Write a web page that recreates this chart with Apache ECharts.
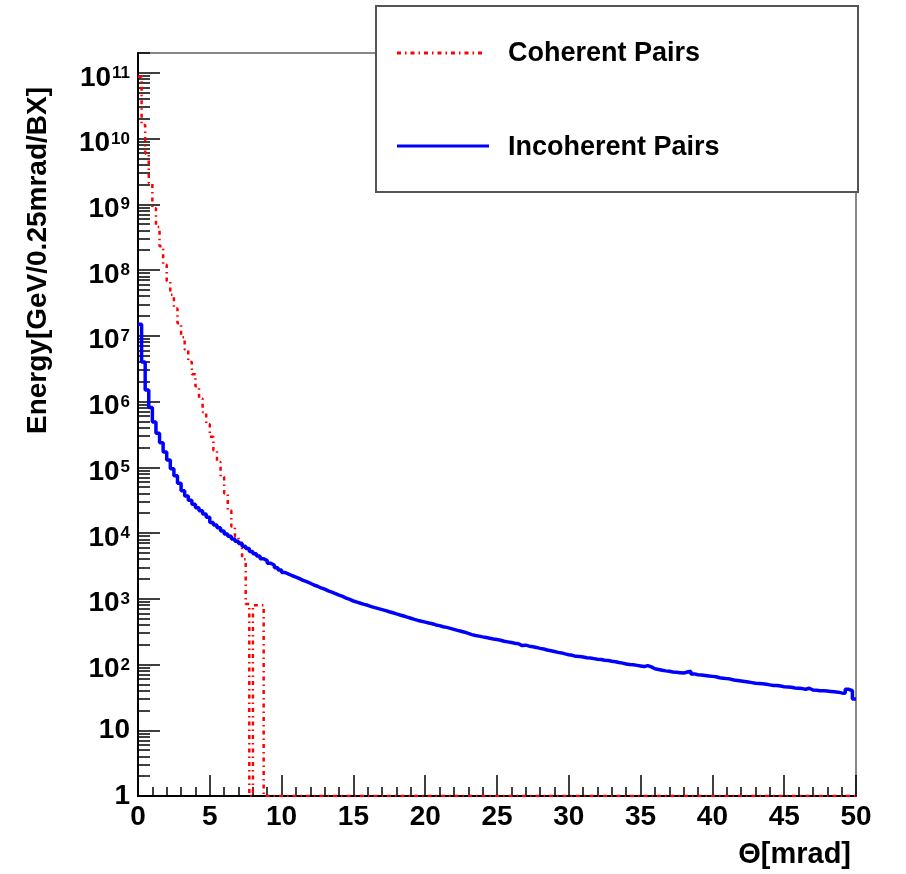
<!DOCTYPE html>
<html>
<head>
<meta charset="utf-8">
<script src="https://cdn.jsdelivr.net/npm/echarts@6/dist/echarts.min.js"></script>
<style>
html, body { margin: 0; padding: 0; background: #fff; }
#chart { width: 906px; height: 874px; }
</style>
</head>
<body>
<div id="chart"></div>
<script>
// histogram bins, 0.25 mrad wide, starting at 0
const binWidth = 0.25;
const xMax = 50;

// coherent pairs: bins 0..35, empty bins drawn on the axis (=1)
const coherentPairs = [
  8.7e10, 1.6e10, 5.9e9, 2.1e9, 8.7e8, 4.5e8, 2.3e8, 1.2e8,
  6.8e7, 4.2e7, 2.6e7, 1.55e7, 9.5e6, 6.2e6, 4.0e6, 2.6e6,
  1.7e6, 1.1e6, 6.9e5, 4.5e5, 2.9e5, 1.8e5, 1.2e5, 7.1e4,
  4.0e4, 2.2e4, 1.26e4, 8.9e3, 7.1e3, 4.0e3, 830, 1,
  800, 800, 800, 1
];

// incoherent pairs: 200 bins, 0..50 mrad
const incoherentPairs = [
  1.5e7, 4.0e6, 1.5e6, 8.1e5, 4.9e5, 3.3e5, 2.35e5, 1.7e5, 1.29e5, 9.5e4,
  7.4e4, 5.7e4, 44000, 36500, 31500, 27500, 24300, 21900, 19500, 17400,
  14450, 13200, 12000, 10700, 9660, 8900, 8130, 7500, 6920, 6310,
  5820, 5250, 4840, 4470, 4070, 3800, 3470, 3240, 2950, 2750,
  2510, 2370, 2240, 2140, 2020, 1900, 1820, 1720, 1620, 1550,
  1460, 1400, 1320, 1260, 1200, 1135, 1085, 1020, 980, 923,
  890, 855, 822, 795, 760, 733, 708, 684, 660, 635,
  612, 589, 567, 546, 525, 506, 486, 468, 454, 441,
  427, 417, 400, 390, 375, 367, 355, 343, 330, 320,
  310, 297, 285, 276, 270, 263, 257, 251, 245, 240,
  234, 226, 221, 216, 211, 207, 194, 197, 190, 186,
  182, 176, 172, 166, 162, 158, 153, 150, 145, 141,
  138, 133, 132, 130, 127, 126, 123, 120, 119, 116,
  115, 112, 110, 107, 105, 102, 100, 99, 97, 95,
  93, 96, 92, 86, 84, 82, 80, 79, 77, 76,
  75, 74, 77, 79, 72, 70, 69, 68, 67, 66,
  65, 63, 62, 61, 60, 58, 57, 56, 55, 54,
  53, 52, 51.5, 51, 50, 49, 48, 48, 47, 46,
  45.5, 45, 44, 43.5, 43, 42, 43.5, 41, 40.5, 40,
  40, 39.5, 39, 38.5, 38, 37, 36.5, 42, 40, 30
];

const xTickLabels = ['0', '5', '10', '15', '20', '25', '30', '35', '40', '45', '50'];
const yDecades = [1, 10, 1e2, 1e3, 1e4, 1e5, 1e6, 1e7, 1e8, 1e9, 1e10, 1e11];
const yMax = 2e11;

const yMinorTicks = [];
yDecades.forEach(function (d) {
  for (let m = 2; m <= 9; m++) {
    if (m * d <= yMax) yMinorTicks.push(m * d);
  }
});

function toSteps(vals, xEnd) {
  const pts = vals.map(function (v, i) { return [i * binWidth, v]; });
  pts.push([xEnd, vals[vals.length - 1]]);
  return pts;
}

const font = "'Liberation Sans', Arial, sans-serif";

const chart = echarts.init(document.getElementById('chart'));
chart.setOption({
  animation: false,
  backgroundColor: '#fff',
  grid: {
    left: 138, right: 50, top: 53, bottom: 78,
    show: true, borderColor: '#888', borderWidth: 2, backgroundColor: 'transparent'
  },
  xAxis: {
    type: 'value',
    min: 0, max: xMax, interval: 5,
    axisLine: { show: true, onZero: false, lineStyle: { color: '#000', width: 2 } },
    axisTick: { show: true, inside: true, length: 21, lineStyle: { color: '#000', width: 1.5 } },
    minorTick: { show: true, splitNumber: 5, length: 9, lineStyle: { color: '#000', width: 1.5 } },
    splitLine: { show: false },
    axisLabel: {
      margin: 7, color: '#000', fontSize: 28, fontWeight: 'bold', fontFamily: font,
      formatter: function (v) { return xTickLabels[Math.round(v / 5)]; }
    }
  },
  yAxis: [{
    type: 'log', logBase: 10,
    min: 1, max: yMax,
    axisLine: { show: true, onZero: false, lineStyle: { color: '#000', width: 2 } },
    axisTick: { show: true, inside: true, length: 22, customValues: yDecades, lineStyle: { color: '#000', width: 1.5 } },
    splitLine: { show: false },
    axisLabel: {
      customValues: yDecades,
      margin: 8, color: '#000',
      formatter: function (v) {
        const e = Math.round(Math.log10(v));
        if (Math.abs(Math.log10(v) - e) > 1e-6) return '';
        if (e === 0) return '{p|1}';
        if (e === 1) return '{p|10}';
        return '{b|10}{s|' + e + '}';
      },
      rich: {
        p: { fontSize: 28, lineHeight: 30, fontWeight: 'bold', fontFamily: font, color: '#000' },
        b: { fontSize: 28, lineHeight: 30, padding: [10, 0, 0, 0], fontWeight: 'bold', fontFamily: font, color: '#000' },
        s: { fontSize: 17, lineHeight: 19, padding: [7, 0, 0, 1], fontWeight: 'bold', fontFamily: font, color: '#000', verticalAlign: 'top' }
      }
    }
  }, {
    // second copy of the scale, only for the 2..9 minor ticks of each decade
    type: 'log', logBase: 10,
    min: 1, max: yMax, position: 'left',
    axisLine: { show: false },
    axisTick: { show: true, inside: true, length: 12, customValues: yMinorTicks, lineStyle: { color: '#000', width: 1.5 } },
    axisLabel: { show: false },
    splitLine: { show: false }
  }],
  series: [{
    name: 'Coherent Pairs',
    type: 'line', step: 'end',
    data: toSteps(coherentPairs, xMax),
    symbol: 'none',
    lineStyle: { color: '#ff0000', width: 2.5, type: [4, 4, 1.5, 4] },
    z: 3
  }, {
    name: 'Incoherent Pairs',
    type: 'line', step: 'end',
    data: toSteps(incoherentPairs, xMax),
    symbol: 'none',
    lineStyle: { color: '#0000ff', width: 3.5 },
    z: 4
  }],
  graphic: [
    {
      type: 'text', x: 38, y: 87, rotation: Math.PI / 2,
      style: {
        text: 'Energy[GeV/0.25mrad/BX]', align: 'right', verticalAlign: 'middle',
        fontSize: 28, fontWeight: 'bold', fontFamily: font, fill: '#000'
      }
    },
    {
      type: 'text', x: 851, y: 855,
      style: {
        text: 'Θ[mrad]', align: 'right', verticalAlign: 'middle',
        fontSize: 29, fontWeight: 'bold', fontFamily: font, fill: '#000'
      }
    },
    {
      type: 'rect', z: 10,
      shape: { x: 376, y: 6, width: 482, height: 186 },
      style: { fill: '#fff', stroke: '#555', lineWidth: 2 }
    },
    {
      type: 'line', z: 11,
      shape: { x1: 397, y1: 53, x2: 486, y2: 53 },
      style: { stroke: '#ff0000', lineWidth: 3, lineDash: [4, 4, 1.5, 4] }
    },
    {
      type: 'text', z: 11, x: 508, y: 54,
      style: {
        text: 'Coherent Pairs', verticalAlign: 'middle',
        fontSize: 27, fontWeight: 'bold', fontFamily: font, fill: '#000'
      }
    },
    {
      type: 'line', z: 11,
      shape: { x1: 397, y1: 146, x2: 489, y2: 146 },
      style: { stroke: '#0000ff', lineWidth: 3 }
    },
    {
      type: 'text', z: 11, x: 508, y: 148,
      style: {
        text: 'Incoherent Pairs', verticalAlign: 'middle',
        fontSize: 27, fontWeight: 'bold', fontFamily: font, fill: '#000'
      }
    }
  ]
});
</script>
</body>
</html>
